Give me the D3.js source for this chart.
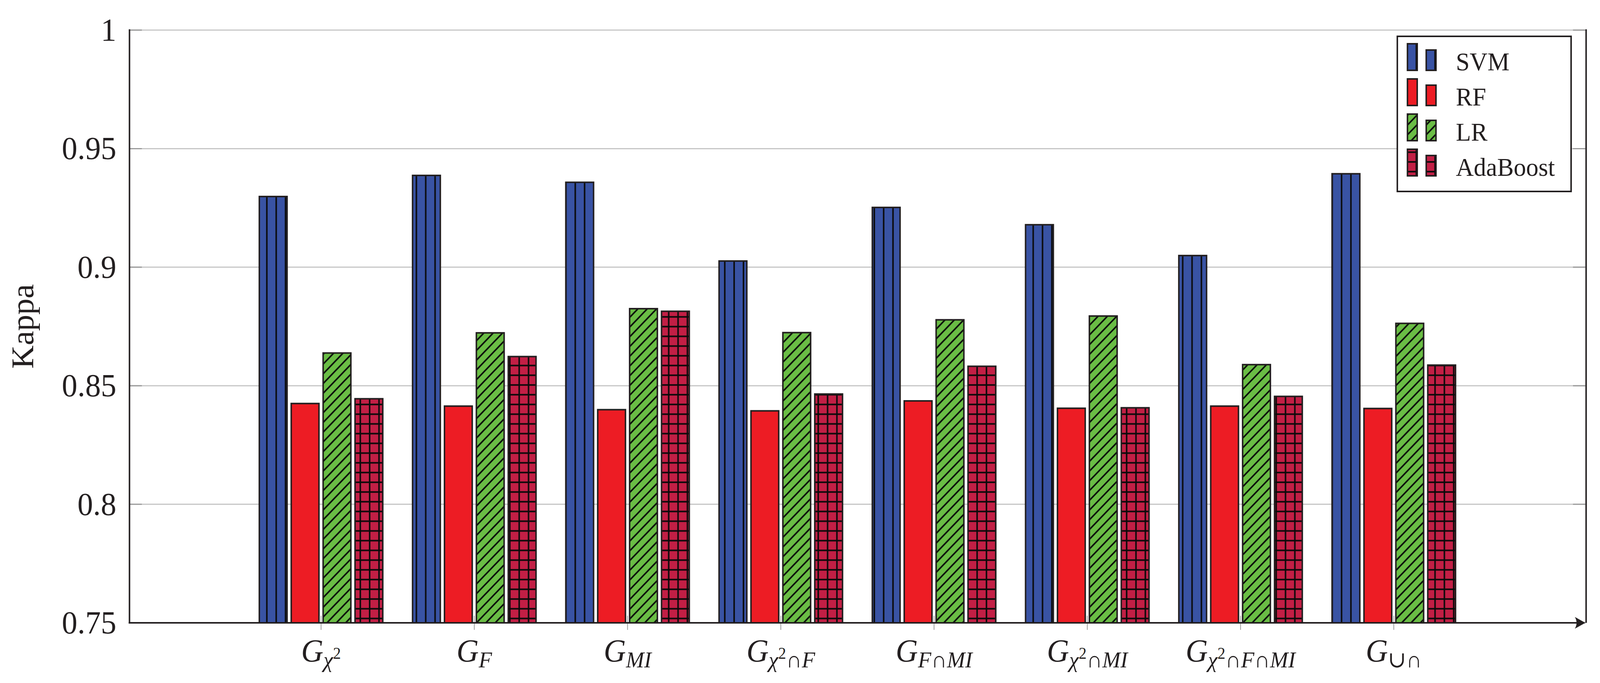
<!DOCTYPE html>
<html>
<head>
<meta charset="utf-8">
<script src="https://cdn.jsdelivr.net/npm/d3@7"></script>
<style>
	html, body { margin: 0; height: 100%; background: #fff; overflow: hidden; }
	svg { display: block; width: 100vw; height: 100vh; }
	text { font-family: "Liberation Serif", "DejaVu Serif", serif; fill: #231f20; }
</style>
</head>
<body>
<svg class="chart" viewBox="0 0 4263 1748" preserveAspectRatio="none"></svg>
<script>
// subscripts of G for each group
const categories = ["χ²", "F", "MI", "χ²∩F", "F∩MI", "χ²∩MI", "χ²∩F∩MI", "∪∩"];
const series = ["SVM", "RF", "LR", "AdaBoost"];
const svm = [0.9298, 0.9387, 0.9358, 0.9026, 0.9252, 0.9179, 0.9049, 0.9394];
const rf = [0.8425, 0.8414, 0.8399, 0.8394, 0.8436, 0.8405, 0.8414, 0.8404];
const lr = [0.8638, 0.8723, 0.8825, 0.8724, 0.8778, 0.8794, 0.8589, 0.8763];
const ada = [0.8445, 0.8623, 0.8814, 0.8465, 0.8582, 0.8407, 0.8455, 0.8587];
const yTicks = [0.75, 0.8, 0.85, 0.9, 0.95, 1];

////////////////////////////////////////////////////////////
//// Setup /////////////////////////////////////////////////
////////////////////////////////////////////////////////////
const values = [svm, rf, lr, ada];
const fills = ["#3953a4", "#ed1c24", "#6abd45", "#c21f45"];
const patterns = ["vlines", "plain", "nelines", "grid"];
const ink = "#231f20";

const svg = d3.select(".chart");
const plotLeft = 345, plotRight = 4224, plotTop = 77, plotBottom = 1594;

const x = d3.scaleLinear().domain([-1.25, 8.25]).range([plotLeft, plotRight]);
const xSub = d3.scaleBand().domain(series).range([-170, 170])
	.paddingInner(0.13).paddingOuter(0.065);
const y = d3.scaleLinear().domain([0.75, 1]).range([plotBottom, plotTop]);

svg.append("rect").attr("width", 4263).attr("height", 1748).attr("fill", "#fff");

// fill patterns
const pw = 24.9;
const defs = svg.append("defs");
series.forEach((s, i) => {
	const p = defs.append("pattern")
		.attr("id", "pat" + i)
		.attr("patternUnits", "userSpaceOnUse")
		.attr("width", pw).attr("height", pw);
	p.append("rect").attr("width", pw).attr("height", pw).attr("fill", fills[i]);
	const st = p.append("g").attr("stroke", "#0a0a0a").attr("stroke-width", 4).attr("fill", "none");
	if (patterns[i] === "vlines" || patterns[i] === "grid") {
		st.append("path").attr("d", `M13.8,0V${pw}`);
	}
	if (patterns[i] === "grid") {
		st.append("path").attr("d", `M0,14.2H${pw}`);
	}
	if (patterns[i] === "nelines") {
		const h = pw / 4;
		st.append("path").attr("d",
			`M0,${pw}L${pw},0M${-h},${h}L${h},${-h}M${pw - h},${pw + h}L${pw + h},${pw - h}`);
	}
});

////////////////////////////////////////////////////////////
//// Grid and axes /////////////////////////////////////////
////////////////////////////////////////////////////////////
svg.append("g").selectAll("line").data(yTicks).join("line")
	.attr("x1", plotLeft).attr("x2", plotRight)
	.attr("y1", d => y(d)).attr("y2", d => y(d))
	.attr("stroke", "#c6c6c6").attr("stroke-width", 3);

const tickG = svg.append("g").attr("stroke", "#9a9a9a").attr("stroke-width", 3);
tickG.selectAll(".tl").data(yTicks).join("line").attr("class", "tl")
	.attr("x1", plotLeft).attr("x2", plotLeft + 33)
	.attr("y1", d => y(d)).attr("y2", d => y(d));
tickG.selectAll(".tr").data(yTicks).join("line").attr("class", "tr")
	.attr("x1", plotRight - 33).attr("x2", plotRight)
	.attr("y1", d => y(d)).attr("y2", d => y(d));

// x ticks at group centers
svg.append("g").selectAll("line").data(categories).join("line")
	.attr("x1", (d, i) => x(i)).attr("x2", (d, i) => x(i))
	.attr("y1", plotBottom - 18).attr("y2", plotBottom + 18)
	.attr("stroke", "#9a9a9a").attr("stroke-width", 2);

// y tick labels
const yAxis = svg.append("g")
	.attr("transform", `translate(${plotLeft},0)`)
	.call(d3.axisLeft(y).tickValues(yTicks).tickSize(0).tickPadding(35).tickFormat(d3.format("")));
yAxis.select(".domain").remove();
yAxis.selectAll("text")
	.attr("font-family", "Liberation Serif, serif")
	.attr("font-size", 83)
	.attr("fill", ink);

svg.append("text")
	.attr("transform", `translate(88,${(plotTop + plotBottom) / 2}) rotate(-90)`)
	.attr("text-anchor", "middle")
	.attr("font-size", 83)
	.text("Kappa");

////////////////////////////////////////////////////////////
//// Bars //////////////////////////////////////////////////
////////////////////////////////////////////////////////////
const barData = [];
categories.forEach((c, i) => {
	series.forEach((s, j) => barData.push({ i, j, s, v: values[j][i] }));
});

svg.append("g").selectAll("rect").data(barData).join("rect")
	.attr("x", d => x(d.i) + xSub(d.s))
	.attr("width", xSub.bandwidth())
	.attr("y", d => y(d.v))
	.attr("height", d => plotBottom - y(d.v))
	.attr("fill", d => (patterns[d.j] === "plain" ? fills[d.j] : `url(#pat${d.j})`))
	.attr("stroke", ink)
	.attr("stroke-width", 4);

// axis lines drawn over the bars
const axisG = svg.append("g").attr("stroke", ink).attr("stroke-width", 4).attr("fill", "none");
axisG.append("line").attr("x1", plotLeft).attr("x2", plotLeft).attr("y1", plotTop - 2).attr("y2", plotBottom + 2);
axisG.append("line").attr("x1", plotRight + 2).attr("x2", plotRight + 2).attr("y1", plotTop - 2).attr("y2", plotBottom);
axisG.append("line").attr("x1", plotLeft - 2).attr("x2", plotRight - 10).attr("y1", plotBottom).attr("y2", plotBottom);
svg.append("path")
	.attr("d", `M${plotRight},${plotBottom}L${plotRight - 28},${plotBottom - 15}Q${plotRight - 19},${plotBottom} ${plotRight - 28},${plotBottom + 15}Z`)
	.attr("fill", ink);

////////////////////////////////////////////////////////////
//// X labels //////////////////////////////////////////////
////////////////////////////////////////////////////////////
const xl = svg.append("g").selectAll("text").data(categories).join("text")
	.attr("x", (d, i) => x(i))
	.attr("y", 1693)
	.attr("text-anchor", "middle")
	.attr("font-size", 82);

xl.each(function (d) {
	const t = d3.select(this);
	t.append("tspan").attr("font-style", "italic").text("G");
	const tokens = d.match(/χ|²|∩|∪|[A-Za-z]+/g);
	let first = true;
	let raised = false;
	tokens.forEach(tok => {
		const ts = t.append("tspan").attr("font-size", 58);
		let dy = 0;
		if (first) { dy += 15; first = false; }
		if (tok === "²") {
			dy -= 22; raised = true;
			ts.attr("font-size", 42).text("2");
		} else {
			if (raised) { dy += 22; raised = false; }
			ts.attr("font-style", /[∩∪]/.test(tok) ? "normal" : "italic").text(tok);
		}
		if (dy) ts.attr("dy", dy);
	});
});

////////////////////////////////////////////////////////////
//// Legend ////////////////////////////////////////////////
////////////////////////////////////////////////////////////
const legend = svg.append("g");
legend.append("rect")
	.attr("x", 3723).attr("y", 93).attr("width", 463).attr("height", 397)
	.attr("fill", "#fff").attr("stroke", ink).attr("stroke-width", 4);

const item = legend.selectAll(".item").data(series).join("g")
	.attr("class", "item")
	.attr("transform", (d, i) => `translate(0,${180 + i * 90})`);
item.append("rect")
	.attr("x", 3750).attr("y", -68).attr("width", 26).attr("height", 68)
	.attr("fill", (d, i) => (patterns[i] === "plain" ? fills[i] : `url(#pat${i})`))
	.attr("stroke", ink).attr("stroke-width", 4);
item.append("rect")
	.attr("x", 3800).attr("y", -52).attr("width", 26).attr("height", 52)
	.attr("fill", (d, i) => (patterns[i] === "plain" ? fills[i] : `url(#pat${i})`))
	.attr("stroke", ink).attr("stroke-width", 4);
item.append("text")
	.attr("x", 3879).attr("y", 0)
	.attr("font-size", 66)
	.text(d => d);
</script>
</body>
</html>
